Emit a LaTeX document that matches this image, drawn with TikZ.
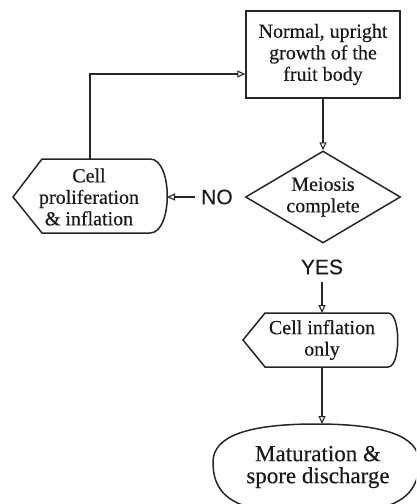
\documentclass[tikz,border=0pt]{standalone}
\usepackage{fontspec}
\setmainfont{Liberation Serif}[FakeBold=0.35]
\newfontfamily\sansf{Liberation Sans}[FakeBold=0.2]
\usetikzlibrary{shapes.geometric,arrows.meta}
\tikzset{
  line/.style={line width=1.5pt, draw=black!85},
  flow/.style={line, -{Triangle[open, length=8pt, width=7pt, line width=1.1pt]}},
  boxtext/.style={align=center, font=\fontsize{20}{21.5}\selectfont, inner sep=0pt, text=black!90},
  answer/.style={font=\sansf\fontsize{21}{22}\selectfont, inner sep=0pt, text=black!90},
}
\begin{document}
\begin{tikzpicture}[x=1pt, y=-1pt]
\clip (0,0) rectangle (416,504);
\fill[white] (0,0) rectangle (416,504);

% Top rectangle
\node[line, rectangle, minimum width=154pt, minimum height=87pt, boxtext] (growth) at (323,54.5)
  {Normal, upright\\growth of the\\fruit body};

% Diamond
\node[line, diamond, shape aspect=1.68, minimum width=155pt, minimum height=92pt, boxtext] (meiosis) at (323,197)
  {Meiosis\\complete};

% Left display shape
\coordinate (prolW) at (13,197);
\coordinate (prolE) at (167,197);
\coordinate (prolN) at (90,159);
\draw[line] (prolW) -- (42,159) -- (150,159) .. controls (173,159) and (173,233) .. (150,233)
  -- (42,233) -- cycle;
\node[boxtext] (prol) at (89,197) {Cell\\proliferation\\\& inflation};

% NO label
\node[answer] (no) at (217,197) {NO};
\draw[flow] (no.west) ++(-6,0) coordinate (noStart) (noStart) -- (prolE);

% Loop back
\coordinate (loopCorner) at (90,74);
\draw[flow] (prolN) -- (loopCorner) -- (loopCorner -| growth.west);

% Growth to meiosis
\draw[flow] (growth.south) -- (meiosis.north);

% YES label
\node[answer] (yes) at (322,267) {YES};

% Cell inflation only display shape
\coordinate (inflW) at (243,340);
\coordinate (inflN) at (322,313);
\coordinate (inflS) at (322,367);
\draw[line] (inflW) -- (265,313) -- (388,313) .. controls (401,313) and (401,367) .. (388,367)
  -- (265,367) -- cycle;
\node[boxtext] (infl) at (322,340) {Cell inflation\\only};

\draw[flow] (yes.south) ++(0,7) coordinate (yesStart) (yesStart) -- (inflN);

% Terminal (oval, cut by the page edge)
\coordinate (matN) at (322,424);
\draw[line] (213,462) .. controls (213,436) and (248,424) .. (316,424)
  .. controls (384,424) and (419,436) .. (419,462)
  .. controls (419,500) and (392,514) .. (316,514)
  .. controls (240,514) and (213,500) .. cycle;
\node[align=center, font=\fontsize{23}{22}\selectfont, inner sep=0pt, text=black!90] (mature) at (318,467)
  {Maturation \&\\spore discharge};

\draw[flow] (inflS) -- (matN);
\end{tikzpicture}
\end{document}
